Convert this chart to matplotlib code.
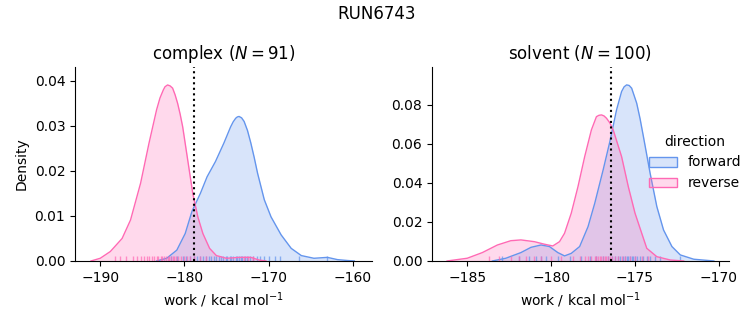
import numpy as np
import matplotlib
matplotlib.use("Agg")
import matplotlib.pyplot as plt
from matplotlib.patches import Patch

# density curves (x in kcal/mol, y density)
cx_fwd_x = [-183.3, -182.1, -180.9, -179.9, -179.1, -178.1, -177.3, -176.3, -175.3, -174.5,
            -174.2, -173.9, -173.7, -173.5, -173.2, -172.9, -172.5, -172.1, -171.7, -171.3,
            -170.5, -169.7, -168.5, -167.3, -166.1, -164.6, -163.0, -161.8, -160.6, -159.8]
cx_fwd_y = [0.0, 0.0006, 0.0024, 0.0061, 0.0110, 0.0150, 0.0187, 0.0221, 0.0262, 0.0298,
            0.0309, 0.0317, 0.0320, 0.0321, 0.0318, 0.0310, 0.0290, 0.0262, 0.0230, 0.0195,
            0.0136, 0.0098, 0.0058, 0.0028, 0.0012, 0.0006, 0.0008, 0.0003, 0.0001, 0.0]
cx_rev_x = [-191.1, -190.0, -188.8, -187.4, -186.4, -185.2, -184.2, -183.3, -182.9, -182.5,
            -182.3, -182.0, -181.7, -181.4, -181.1, -180.8, -180.5, -180.2, -179.6, -179.0,
            -178.4, -177.8, -177.0, -176.2, -175.0, -173.5, -172.1, -171.1, -170.3]
cx_rev_y = [0.0, 0.0006, 0.0021, 0.0050, 0.0091, 0.0173, 0.0262, 0.0336, 0.0362, 0.0380,
            0.0387, 0.0391, 0.0389, 0.0384, 0.0369, 0.0350, 0.0326, 0.0298, 0.0224, 0.0150,
            0.0098, 0.0061, 0.0028, 0.0012, 0.0006, 0.0008, 0.0008, 0.0002, 0.0]

sv_fwd_x = [-183.5, -182.7, -181.8, -181.2, -180.6, -180.1, -179.6, -179.2, -178.8, -178.3,
            -177.8, -177.4, -176.9, -176.5, -176.1, -175.8, -175.65, -175.5, -175.35, -175.2,
            -174.9, -174.7, -174.5, -174.1, -173.7, -173.3, -172.8, -172.3, -171.5, -170.3]
sv_fwd_y = [0.0, 0.0014, 0.0043, 0.0070, 0.0082, 0.0074, 0.0043, 0.0026, 0.0039, 0.0074,
            0.0176, 0.0296, 0.0467, 0.0612, 0.0775, 0.0869, 0.0893, 0.0903, 0.0900, 0.0886,
            0.0809, 0.0730, 0.0638, 0.0450, 0.0279, 0.0159, 0.0074, 0.0031, 0.0009, 0.0]
sv_rev_x = [-186.2, -185.0, -184.1, -183.2, -182.4, -181.8, -181.0, -180.4, -179.9, -179.5,
            -179.2, -178.8, -178.4, -178.0, -177.6, -177.3, -177.15, -177.0, -176.85, -176.7,
            -176.5, -176.3, -175.8, -175.4, -175.0, -174.6, -174.3, -173.7, -172.9, -172.1]
sv_rev_y = [0.0, 0.0014, 0.0043, 0.0082, 0.0104, 0.0108, 0.0099, 0.0086, 0.0077, 0.0099,
            0.0142, 0.0245, 0.0381, 0.0535, 0.0672, 0.0740, 0.0747, 0.0749, 0.0744, 0.0732,
            0.0708, 0.0672, 0.0535, 0.0381, 0.0245, 0.0142, 0.0065, 0.0022, 0.0005, 0.0]

# individual work values (rug)
cx_fwd_rug = [-181.6, -180.9, -180.2, -179.8, -179.3, -178.9, -178.5, -178.1, -177.8, -177.4,
              -177.1, -176.8, -176.5, -176.2, -175.9, -175.7, -175.4, -175.1, -174.9, -174.6,
              -174.4, -174.2, -173.9, -173.7, -173.5, -173.3, -173.1, -172.8, -172.5, -172.2,
              -171.8, -171.4, -171.0, -170.5, -169.9, -169.2, -168.6, -166.4, -163.1]
cx_rev_rug = [-188.3, -187.6, -186.9, -186.1, -185.6, -185.2, -184.8, -184.5, -184.2, -183.9,
              -183.6, -183.3, -183.1, -182.8, -182.6, -182.4, -182.2, -182.0, -181.8, -181.6,
              -181.4, -181.2, -181.0, -180.7, -180.4, -180.1, -179.7, -179.3, -178.8, -178.2,
              -177.4, -172.9, -172.4, -171.9]
sv_fwd_rug = [-182.9, -181.9, -181.3, -180.9, -180.6, -180.3, -179.6, -178.9, -178.2, -177.7,
              -177.3, -176.9, -176.6, -176.4, -176.2, -176.0, -175.9, -175.7, -175.6, -175.5,
              -175.4, -175.3, -175.2, -175.1, -175.0, -174.9, -174.7, -174.5, -174.3, -174.1,
              -173.8, -173.5, -172.3]
sv_rev_rug = [-183.7, -183.1, -182.4, -181.9, -181.5, -181.0, -180.6, -180.0, -179.4, -178.7,
              -178.3, -178.0, -177.8, -177.6, -177.4, -177.3, -177.2, -177.1, -177.0, -176.9,
              -176.8, -176.7, -176.6, -176.5, -176.4, -176.2, -176.0, -175.8, -175.6, -175.3,
              -175.0, -174.6, -174.2]

dg = [-178.85, -176.45]  # dotted reference lines
titles = [r"complex ($N = 91$)", r"solvent ($N = 100$)"]
colors = {"forward": "cornflowerblue", "reverse": "hotpink"}

fig = plt.figure(figsize=(7.53, 3.25), dpi=100)
ax1 = fig.add_axes([0.0996, 0.197, 0.3944, 0.597])
ax2 = fig.add_axes([0.5737, 0.197, 0.3944, 0.597])

panels = [
    (ax1, (cx_fwd_x, cx_fwd_y, cx_fwd_rug), (cx_rev_x, cx_rev_y, cx_rev_rug)),
    (ax2, (sv_fwd_x, sv_fwd_y, sv_fwd_rug), (sv_rev_x, sv_rev_y, sv_rev_rug)),
]

for i, (ax, fwd, rev) in enumerate(panels):
    for name, (x, y, rug) in zip(["forward", "reverse"], [fwd, rev]):
        c = colors[name]
        ax.fill_between(x, y, color=c, alpha=0.25, lw=0)
        ax.plot(x, y, color=c, lw=1)
        ax.vlines(rug, 0, 0.025, transform=ax.get_xaxis_transform(),
                  color=c, alpha=0.7, lw=1)
    ax.axvline(dg[i], color="k", ls=":", lw=1.5)
    ax.set_title(titles[i])
    ax.set_xlabel(r"work / kcal mol$^{-1}$")
    ax.spines["top"].set_visible(False)
    ax.spines["right"].set_visible(False)

ax1.set_xlim(-193.0, -157.7)
ax1.set_ylim(0, 0.0431)
ax1.set_xticks([-190, -180, -170, -160])
ax1.set_yticks([0, 0.01, 0.02, 0.03, 0.04])
ax1.set_ylabel("Density")

ax2.set_xlim(-187.1, -169.4)
ax2.set_ylim(0, 0.0995)
ax2.set_xticks([-185, -180, -175, -170])
ax2.set_yticks([0, 0.02, 0.04, 0.06, 0.08])
ax1.yaxis.set_major_formatter(matplotlib.ticker.FormatStrFormatter("%.2f"))
ax2.yaxis.set_major_formatter(matplotlib.ticker.FormatStrFormatter("%.2f"))

handles = [Patch(facecolor=matplotlib.colors.to_rgba(colors[k], 0.25),
                 edgecolor=colors[k], label=k) for k in ["forward", "reverse"]]
fig.legend(handles=handles, title="direction", frameon=False,
           loc="center left", bbox_to_anchor=(0.845, 0.5))

fig.suptitle("RUN6743", y=0.985)
fig.savefig("out.png", dpi=100)
